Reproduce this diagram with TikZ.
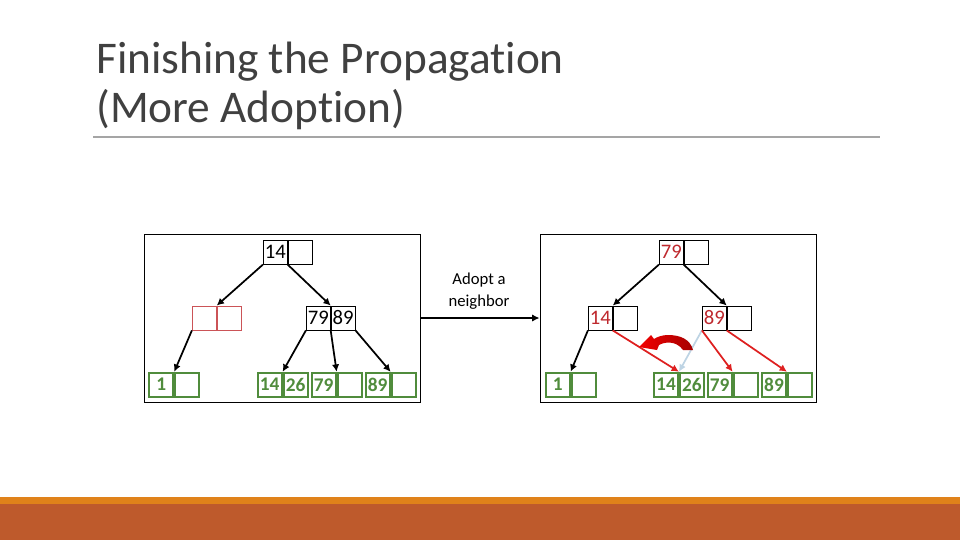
\documentclass[tikz,border=0pt]{standalone}
\usepackage{fontspec}
\setmainfont{Carlito}[Ligatures=NoCommon]
\usetikzlibrary{positioning, arrows.meta}

\definecolor{titlegray}{RGB}{64,64,64}
\definecolor{rulegray}{RGB}{165,165,165}
\definecolor{leafgreen}{RGB}{80,140,60}
\definecolor{keyred}{RGB}{190,40,45}
\definecolor{linkred}{RGB}{222,32,32}
\definecolor{paleblue}{RGB}{190,212,228}
\definecolor{bandorange}{RGB}{224,130,26}
\definecolor{bandbrown}{RGB}{190,90,44}

\begin{document}
\begin{tikzpicture}[x=0.75pt, y=-0.75pt,
    cell/.style={draw, line width=0.6pt, minimum width=18pt, minimum height=18pt,
      inner sep=0pt, font=\fontsize{15.5}{15.5}\selectfont},
    emptycell/.style={cell, draw=keyred!80!white},
    leaf/.style={cell, draw=leafgreen, line width=1.4pt, text=leafgreen,
      font=\fontsize{14.5}{14.5}\selectfont\bfseries},
    panel/.style={draw, line width=0.7pt, minimum width=207.5pt, minimum height=126pt, inner sep=0pt},
    link/.style={line width=1.3pt, -{Latex[length=5.5pt, width=5.5pt]}},
    redlink/.style={link, linkred},
  ]
  \useasboundingbox (0,0) rectangle (960,540);

  % title
  \node[anchor=base west, inner sep=0pt, text=titlegray, font=\fontsize{34}{34}\selectfont]
    (title1) at (96,73) {Finishing the Propagation};
  \node[anchor=base west, inner sep=0pt, text=titlegray, font=\fontsize{34}{34}\selectfont]
    (title2) at (96,122) {(More Adoption)};
  \draw[rulegray, line width=0.8pt] (93,137) -- (880,137);

  % panels
  \node[panel] (Lpanel) at (282.5,318) {};
  \node[panel] (Rpanel) at (678.3,318) {};
  \draw[link] (Lpanel) -- (Rpanel);
  \node[align=center, font=\fontsize{12.5}{16.5}\selectfont] (adopt) at (479,291) {Adopt a\\neighbor};

  % left tree
  \node[cell] (Lroot) at (275.3,252.2) {14};
  \node[cell, right=0pt of Lroot] (Lrootb) {};
  \node[emptycell] (Lhole) at (204.3,318) {};
  \node[emptycell, right=0pt of Lhole] (Lholeb) {};
  \node[cell] (Lmid) at (318.3,318) {79};
  \node[cell, right=0pt of Lmid] (Lmidb) {89};
  \foreach \i/\x/\a/\b in {1/161.3/1/{}, 2/269.7/14/26, 3/323.7/79/{}, 4/377.7/89/{}} {
    \node[leaf] (Lleaf\i) at (\x,384.7) {\a};
    \node[leaf, right=0pt of Lleaf\i] (Lleaf\i b) {\b};
  }

  \draw[link] (Lroot.south west) -- (Lhole.north east);
  \draw[link] (Lroot.south east) -- (Lmid.north east);
  \draw[link] (Lhole.south west) -- (Lleaf1.north east);
  \draw[link] (Lmid.south west) -- (Lleaf2.north east);
  \draw[link] (Lmid.south east) -- (Lleaf3.north east);
  \draw[link] (Lmidb.south east) -- (Lleaf4.north east);

  % right tree
  \node[cell, text=keyred] (Rroot) at (671.3,252.2) {79};
  \node[cell, right=0pt of Rroot] (Rrootb) {};
  \node[cell, text=keyred] (Rleft) at (600.3,318) {14};
  \node[cell, right=0pt of Rleft] (Rleftb) {};
  \node[cell, text=keyred] (Rright) at (714.3,318) {89};
  \node[cell, right=0pt of Rright] (Rrightb) {};
  \foreach \i/\x/\a/\b in {1/557.7/1/{}, 2/666/14/26, 3/719.7/79/{}, 4/774/89/{}} {
    \node[leaf] (Rleaf\i) at (\x,384.7) {\a};
    \node[leaf, right=0pt of Rleaf\i] (Rleaf\i b) {\b};
  }

  \draw[link] (Rroot.south west) -- (Rleft.north east);
  \draw[link] (Rroot.south east) -- (Rright.north east);
  \draw[link] (Rleft.south west) -- (Rleaf1.north east);
  \draw[redlink] (Rleft.south east) -- (Rleaf2.north east);
  \draw[link, paleblue] (Rright.south west) -- (Rleaf2.north east);
  \draw[redlink] (Rright.south west) -- (Rleaf3.north east);
  \draw[redlink] (Rright.south east) -- (Rleaf4.north east);

  % curved move arrow
  \shade[left color=red!95!black, right color=red!65!black]
    (693,350) .. controls (690,339) and (680,335) .. (668,335)
    .. controls (662,335) and (657,337) .. (654,339)
    -- (651,335) -- (639,347) -- (657,350) -- (659,345)
    .. controls (664,342) and (676,340) .. (683,350) -- cycle;

  % footer band
  \fill[bandorange] (0,497) rectangle (960,504);
  \fill[bandbrown] (0,504) rectangle (960,540);
\end{tikzpicture}
\end{document}
